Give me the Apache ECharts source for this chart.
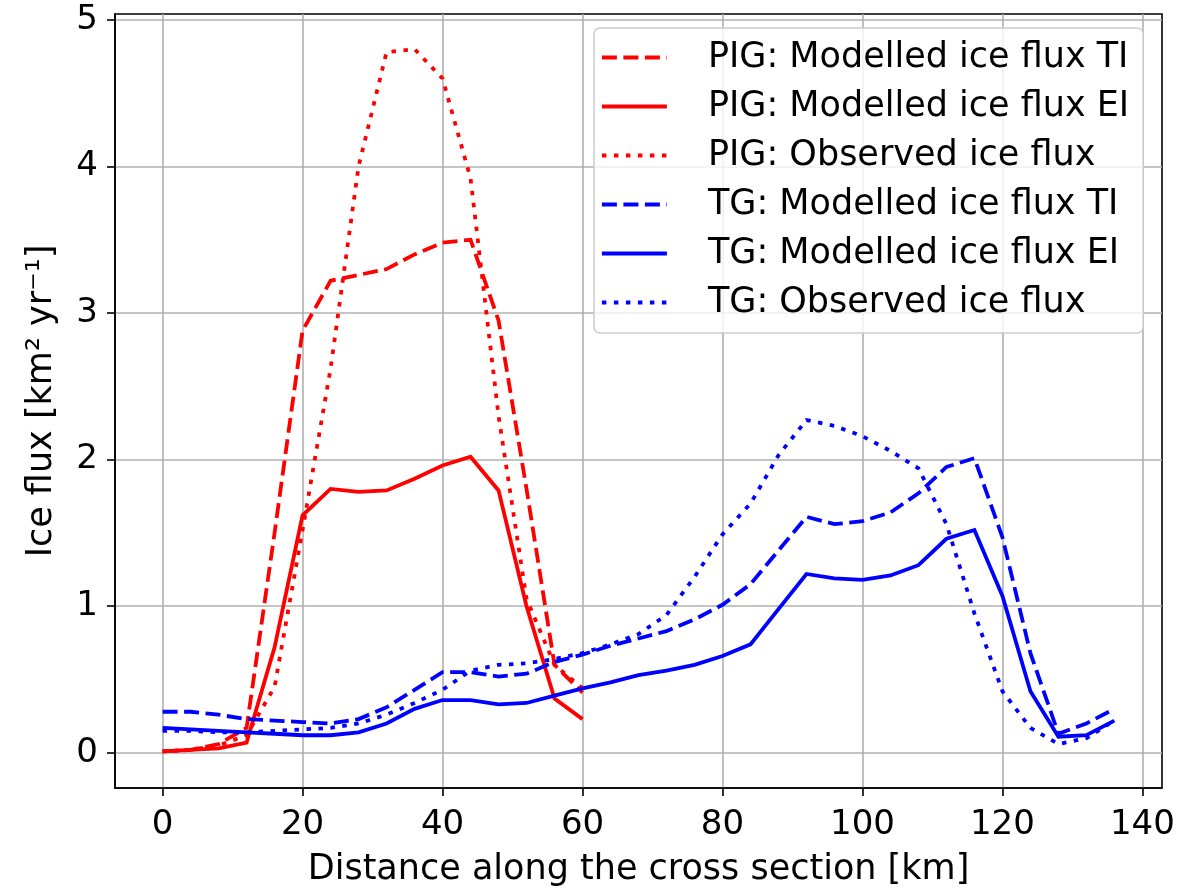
<!DOCTYPE html>
<html>
<head>
<meta charset="utf-8">
<script src="https://cdn.jsdelivr.net/npm/echarts@6/dist/echarts.min.js"></script>
<style>html,body{margin:0;padding:0;background:#fff;}#chart{width:1182px;height:892px;}</style>
</head>
<body>
<div id="chart"></div>
<script>
// ---- data ----
const pigX = [0,4,8,12,16,20,24,28,32,36,40,44,48,52,56,60];
const pigTI  = [0.01,0.02,0.06,0.17,1.50,2.88,3.22,3.26,3.30,3.40,3.48,3.50,2.95,1.80,0.60,0.41];
const pigEI  = [0.01,0.02,0.03,0.07,0.72,1.62,1.80,1.78,1.79,1.87,1.96,2.02,1.79,1.00,0.37,0.23];
const pigObs = [0.01,0.02,0.05,0.12,0.45,1.52,2.62,4.00,4.78,4.80,4.60,3.92,2.30,1.05,0.60,0.44];

const tgX = [0,4,8,12,16,20,24,28,32,36,40,44,48,52,56,60,64,68,72,76,80,84,88,92,96,100,104,108,112,116,120,124,128,132,136];
const tgTI  = [0.28,0.28,0.26,0.23,0.22,0.21,0.20,0.23,0.31,0.43,0.55,0.55,0.52,0.54,0.62,0.67,0.73,0.78,0.83,0.91,1.01,1.15,1.38,1.61,1.56,1.58,1.64,1.77,1.95,2.01,1.47,0.68,0.13,0.20,0.30];
const tgEI  = [0.17,0.16,0.15,0.14,0.13,0.12,0.12,0.14,0.20,0.30,0.36,0.36,0.33,0.34,0.39,0.44,0.48,0.53,0.56,0.60,0.66,0.74,0.98,1.22,1.19,1.18,1.21,1.28,1.46,1.52,1.07,0.42,0.11,0.12,0.22];
const tgObs = [0.15,0.15,0.14,0.14,0.15,0.16,0.17,0.20,0.26,0.34,0.43,0.56,0.60,0.61,0.64,0.68,0.74,0.81,0.94,1.20,1.49,1.70,2.03,2.27,2.23,2.16,2.06,1.94,1.56,0.95,0.42,0.17,0.06,0.10,0.22];

const xTicks = [0,20,40,60,80,100,120,140];
const yTicks = [0,1,2,3,4,5];

const names = [
  'PIG: Modelled ice flux TI','PIG: Modelled ice flux EI','PIG: Observed ice flux',
  'TG: Modelled ice flux TI','TG: Modelled ice flux EI','TG: Observed ice flux'
];
const xTitle = 'Distance along the cross section [km]';
const yTitle = 'Ice flux [km² yr⁻¹]';

// ---- chart ----
const FONT = 'DejaVu Sans';
const DASH = [15, 6.5];
const DOT = [4.5, 7.5];
const LW = 3.8;
function pairs(xs, ys){ return xs.map((x,i)=>[x, ys[i]]); }
function mk(name, xs, ys, color, type){
  return {
    name, type:'line', data: pairs(xs, ys), symbol:'none', showSymbol:false,
    smooth:false, animation:false,
    lineStyle:{color, width:LW, type, cap:'butt', join:'miter'},
    itemStyle:{color}
  };
}
const RED = '#ff0000', BLUE = '#0000ff';
const series = [
  mk(names[0], pigX, pigTI, RED, DASH),
  mk(names[1], pigX, pigEI, RED, 'solid'),
  mk(names[2], pigX, pigObs, RED, DOT),
  mk(names[3], tgX, tgTI, BLUE, DASH),
  mk(names[4], tgX, tgEI, BLUE, 'solid'),
  mk(names[5], tgX, tgObs, BLUE, DOT)
];

const chart = echarts.init(document.getElementById('chart'), null, {renderer:'canvas'});
chart.setOption({
  animation:false,
  backgroundColor:'#fff',
  grid:{left:115, top:14, right:20, bottom:102, show:true, borderColor:'#000', borderWidth:1.6, backgroundColor:'transparent'},
  legend:{
    data:names, orient:'vertical', left:594, top:28,
    padding:[12,14,13,6], itemGap:14, itemWidth:65, itemHeight:20,
    backgroundColor:'rgba(255,255,255,0.8)', borderColor:'#cccccc', borderWidth:1.5, borderRadius:6,
    itemStyle:{opacity:0},
    lineStyle:{width:LW},
    textStyle:{fontFamily:FONT, fontSize:35, color:'#000', padding:[0,0,0,36], lineHeight:35},
    selectedMode:false
  },
  xAxis:{
    type:'value', min:-6.8, max:142.8,
    name:xTitle, nameLocation:'middle', nameGap:64,
    nameTextStyle:{fontFamily:FONT, fontSize:35, color:'#000'},
    axisLine:{show:true, onZero:false, lineStyle:{color:'#000', width:1.6}},
    axisTick:{show:true, length:8, inside:false, customValues:xTicks, lineStyle:{color:'#000', width:1.6}},
    axisLabel:{show:true, customValues:xTicks, margin:20, fontFamily:FONT, fontSize:34, color:'#000'},
    splitLine:{show:true, lineStyle:{color:'#b0b0b0', width:1.6}}
  },
  yAxis:{
    type:'value', min:-0.24, max:5.04,
    name:yTitle, nameLocation:'middle', nameGap:56, nameRotate:90,
    nameTextStyle:{fontFamily:FONT, fontSize:35, color:'#000'},
    axisLine:{show:true, onZero:false, lineStyle:{color:'#000', width:1.6}},
    axisTick:{show:true, length:8, inside:false, customValues:yTicks, lineStyle:{color:'#000', width:1.6}},
    axisLabel:{show:true, customValues:yTicks, margin:17, fontFamily:FONT, fontSize:34, color:'#000'},
    splitLine:{show:true, lineStyle:{color:'#b0b0b0', width:1.6}}
  },
  series
});
</script>
</body>
</html>
